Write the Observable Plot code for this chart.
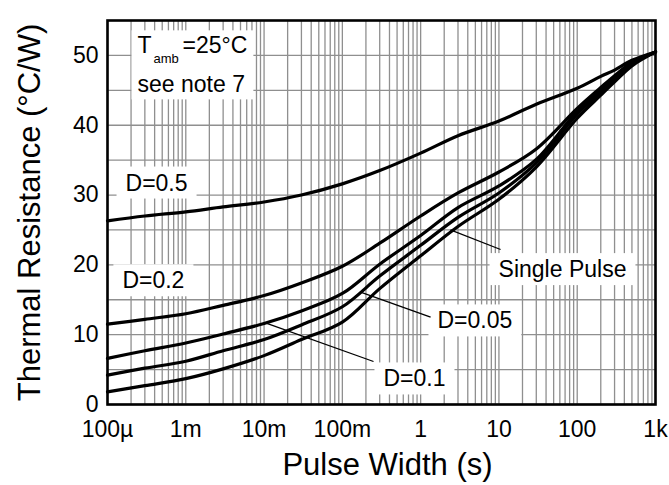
<!DOCTYPE html>
<html><head><meta charset="utf-8">
<script src="https://cdn.jsdelivr.net/npm/d3@7"></script>
<script src="https://cdn.jsdelivr.net/npm/@observablehq/plot@0.6"></script>
<style>body{margin:0;background:#fff;} svg{display:block}</style>
</head><body><div id="chart"></div>
<script>
// ---- data ----
const pulseWidth = [1e-4, 3e-4, 1e-3, 3e-3, 1e-2, 3e-2, 0.1, 0.3, 1, 3, 10, 30, 100, 200, 300, 500, 1000];
const seriesNames = ["D=0.5", "D=0.2", "D=0.1", "D=0.05", "Single Pulse"];
const rD05    = [26.3, 27.0, 27.6, 28.3, 29.0, 30.0, 31.6, 33.5, 36.0, 38.5, 40.6, 43.0, 45.3, 47.0, 47.9, 49.3, 50.5];
const rD02    = [11.5, 12.2, 13.0, 14.2, 15.6, 17.4, 19.8, 23.1, 27.0, 30.3, 33.3, 36.6, 42.4, 45.4, 47.1, 49.0, 50.5];
const rD01    = [6.6, 7.7, 8.8, 10.1, 11.6, 13.4, 15.9, 20.1, 24.2, 28.2, 31.3, 35.1, 42.0, 45.0, 46.8, 48.8, 50.5];
const rD005   = [4.2, 5.2, 6.2, 7.7, 9.3, 11.4, 14.0, 18.4, 22.8, 26.8, 30.3, 34.6, 41.6, 44.7, 46.5, 48.7, 50.5];
const rSingle = [1.8, 2.7, 3.7, 5.1, 7.0, 9.3, 11.8, 16.6, 21.3, 25.5, 29.4, 34.0, 41.0, 44.3, 46.2, 48.5, 50.5];
const seriesValues = [rD05, rD02, rD01, rD005, rSingle];

const xTickValues = [1e-4, 1e-3, 1e-2, 1e-1, 1, 10, 100, 1000];
const xTickLabels = ["100µ", "1m", "10m", "100m", "1", "10", "100", "1k"];
const yTickValues = [0, 10, 20, 30, 40, 50];
const yGridValues = [0, 5, 10, 15, 20, 25, 30, 35, 40, 45, 50];

const labelTexts = ["D=0.5", "D=0.2", "Single Pulse", "D=0.05", "D=0.1"];
const labelX = [1.7e-4, 1.55e-4, 9.9, 1.64, 0.335];
const labelY = [31.7, 17.7, 19.3, 11.95, 3.64];

const leaderX1 = [0.0104, 0.171, 2.40];
const leaderY1 = [11.7, 16.1, 25.0];
const leaderX2 = [0.25, 1.34, 10.5];
const leaderY2 = [6.16, 12.5, 22.2];

const noteX = 2.42e-4;
const noteT = "T", noteSub = "amb", noteEq = "=25°C", noteLine2 = "see note 7";
const noteY1 = 51.35, noteSubY = 49.46, noteY2 = 45.76;

const xTitle = "Pulse Width (s)";
const yTitle = "Thermal Resistance (°C/W)";

// ---- tables built from the arrays ----
const rows = seriesNames.flatMap((s, i) => pulseWidth.map((t, j) => ({series: s, t, r: seriesValues[i][j]})));
const labels = labelTexts.map((text, i) => ({text, x: labelX[i], y: labelY[i]}));
const leaders = leaderX1.map((x1, i) => ({x1, y1: leaderY1[i], x2: leaderX2[i], y2: leaderY2[i]}));
const xLabelOf = new Map(xTickValues.map((v, i) => [v, xTickLabels[i]]));
const xGridValues = d3.scaleLog().domain([1e-4, 1e3]).ticks();

const gridStyle = {stroke: "#8f8f8f", strokeOpacity: 1, strokeWidth: 1.3};

const chart = Plot.plot({
  width: 669, height: 485,
  marginLeft: 107, marginRight: 14, marginTop: 20, marginBottom: 81,
  style: {fontFamily: '"Liberation Sans", Arial, Helvetica, sans-serif', fontSize: "23px", color: "#000", background: "#fff", overflow: "visible"},
  x: {type: "log", domain: [1e-4, 1e3]},
  y: {domain: [0, 55]},
  marks: [
    Plot.gridX(xGridValues, gridStyle),
    Plot.gridY(yGridValues, gridStyle),
    Plot.line(rows, {x: "t", y: "r", z: "series", stroke: "#000", strokeWidth: 3.2, curve: "catmull-rom", strokeLinejoin: "round"}),
    Plot.frame({stroke: "#000", strokeWidth: 2.6}),
    Plot.text(labels, {x: "x", y: "y", text: "text", textAnchor: "start", fontSize: 23, fill: "#000", ariaDescription: "boxed"}),
    Plot.text([noteT], {x: () => noteX, y: () => noteY1, text: d => d, textAnchor: "start", fontSize: 23, ariaDescription: "note"}),
    Plot.text([noteSub], {x: () => noteX, y: () => noteSubY, text: d => d, textAnchor: "start", fontSize: 13, dx: 16, ariaDescription: "note"}),
    Plot.text([noteEq], {x: () => noteX, y: () => noteY1, text: d => d, textAnchor: "start", fontSize: 23, dx: 45, ariaDescription: "note"}),
    Plot.text([noteLine2], {x: () => noteX, y: () => noteY2, text: d => d, textAnchor: "start", fontSize: 23, ariaDescription: "note"}),
    Plot.link(leaders, {x1: "x1", y1: "y1", x2: "x2", y2: "y2", stroke: "#000", strokeWidth: 1.3}),
    Plot.axisX({ticks: xTickValues, tickFormat: d => xLabelOf.get(d), tickSize: 0, tickPadding: 16, fontSize: 23, label: null}),
    Plot.axisY({ticks: yTickValues, tickSize: 0, tickPadding: 9, fontSize: 23, label: null}),
    Plot.text([xTitle], {frameAnchor: "bottom", text: d => d, dy: 61, dx: 6, fontSize: 31, textAnchor: "middle", lineAnchor: "middle"}),
    Plot.text([yTitle], {frameAnchor: "left", text: d => d, dx: -77, rotate: -90, fontSize: 31, textAnchor: "middle", lineAnchor: "middle"})
  ]
});
document.getElementById("chart").append(chart);

// white boxes behind annotation text (like the datasheet's label boxes)
const svgRect = chart.getBoundingClientRect();
function boxBehind(texts, beforeNode, padX, padY) {
  if (!texts.length || !beforeNode) return;
  let x0 = Infinity, y0 = Infinity, x1 = -Infinity, y1 = -Infinity;
  texts.forEach(t => {
    const b = t.getBoundingClientRect();
    x0 = Math.min(x0, b.left); y0 = Math.min(y0, b.top);
    x1 = Math.max(x1, b.right); y1 = Math.max(y1, b.bottom);
  });
  const r = document.createElementNS("http://www.w3.org/2000/svg", "rect");
  r.setAttribute("x", x0 - svgRect.left - padX);
  r.setAttribute("y", y0 - svgRect.top - padY);
  r.setAttribute("width", x1 - x0 + 2 * padX);
  r.setAttribute("height", y1 - y0 + 2 * padY);
  r.setAttribute("fill", "#fff");
  beforeNode.parentNode.insertBefore(r, beforeNode);
}
const boxedGroup = chart.querySelector('g[aria-description="boxed"]');
if (boxedGroup) boxedGroup.querySelectorAll("text").forEach(t => boxBehind([t], boxedGroup, 9, 3));
const noteGroups = chart.querySelectorAll('g[aria-description="note"]');
const noteTexts = [];
noteGroups.forEach(g => g.querySelectorAll("text").forEach(t => noteTexts.push(t)));
boxBehind(noteTexts, noteGroups[0], 6, 2);
</script>
</body></html>
